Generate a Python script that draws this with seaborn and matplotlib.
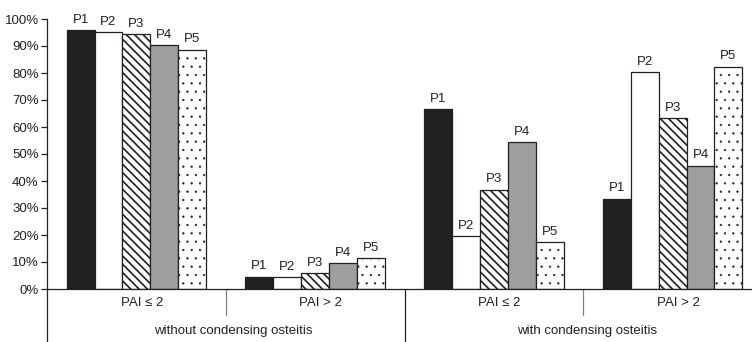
import pandas as pd
import matplotlib
matplotlib.use('Agg')
import matplotlib.pyplot as plt
import matplotlib.transforms as mtransforms
import seaborn as sns

groups = ['A', 'B', 'C', 'D']
sub_labels = ['PAI ≤ 2', 'PAI > 2', 'PAI ≤ 2', 'PAI > 2']
main_labels = ['without condensing osteitis', 'with condensing osteitis']
patterns = ['P1', 'P2', 'P3', 'P4', 'P5']
p1 = [95.9, 4.6, 66.7, 33.5]
p2 = [95.3, 4.4, 19.7, 80.2]
p3 = [94.3, 5.8, 36.8, 63.4]
p4 = [90.4, 9.6, 54.4, 45.7]
p5 = [88.7, 11.5, 17.5, 82.4]

rows = []
for pat, vals in zip(patterns, [p1, p2, p3, p4, p5]):
    for g, v in zip(groups, vals):
        rows.append({'group': g, 'pattern': pat, 'value': v})
df = pd.DataFrame(rows)

sns.set_style('white')
plt.rcParams['font.family'] = ['Liberation Sans', 'DejaVu Sans']
ink = '#231f20'
fs = 9.5
colors = {'P1': ink, 'P2': 'white', 'P3': 'white', 'P4': '#9c9ea1', 'P5': 'white'}
hatches = {'P1': '', 'P2': '', 'P3': '\\' * 4, 'P4': '', 'P5': '..'}
hatch_lw = {'P1': 1.0, 'P2': 1.0, 'P3': 1.2, 'P4': 1.0, 'P5': 0.4}
plt.rcParams['hatch.color'] = ink
plt.rcParams['hatch.linewidth'] = 1.2

fig = plt.figure(figsize=(7.52, 3.42), dpi=100)
ax = fig.add_axes([47 / 752, 1 - 289 / 342, 1 - 47 / 752, 270 / 342])
sns.barplot(data=df, x='group', y='value', hue='pattern', palette=colors,
            width=0.78, edgecolor=ink, linewidth=0.9, legend=False, ax=ax)

for cont, pat in zip(ax.containers, patterns):
    for bar in cont:
        bar.set_hatch(hatches[pat])
        if hasattr(bar, 'set_hatch_linewidth'):
            bar.set_hatch_linewidth(hatch_lw[pat])
    ax.bar_label(cont, labels=[pat] * len(groups), padding=3, fontsize=fs, color=ink)

ax.set_ylim(0, 100)
ax.set_xlim(-0.5, 3.444)
ax.set_yticks(range(0, 101, 10))
ax.set_yticklabels([f'{t}%' for t in range(0, 101, 10)], fontsize=fs, color=ink)
ax.tick_params(axis='y', left=True, length=4, width=0.9, color=ink, pad=2)
ax.set_xticks([])
ax.set_xlabel('')
ax.set_ylabel('')
for side in ['top', 'right']:
    ax.spines[side].set_visible(False)
ax.spines['left'].set_color(ink)
ax.spines['bottom'].set_color(ink)
ax.spines['left'].set_linewidth(0.9)
ax.spines['bottom'].set_linewidth(0.9)

trans = mtransforms.blended_transform_factory(ax.transData, ax.transAxes)
for i, lab in enumerate(sub_labels):
    ax.text(i + 0.03, -0.053, lab, transform=trans, ha='center', va='center',
            fontsize=fs, color=ink)
for x, ybot, c in [(-0.5, -0.2, ink), (0.5, -0.097, '#808080'), (1.5, -0.2, ink), (2.5, -0.097, '#808080')]:
    ax.plot([x, x], [0, ybot], transform=trans, color=c, linewidth=0.9, clip_on=False)
ax.text(0.54, -0.157, main_labels[0], transform=trans, ha='center', va='center',
        fontsize=fs, color=ink)
ax.text(2.52, -0.157, main_labels[1], transform=trans, ha='center', va='center',
        fontsize=fs, color=ink)

fig.savefig('out.png', dpi=100)
